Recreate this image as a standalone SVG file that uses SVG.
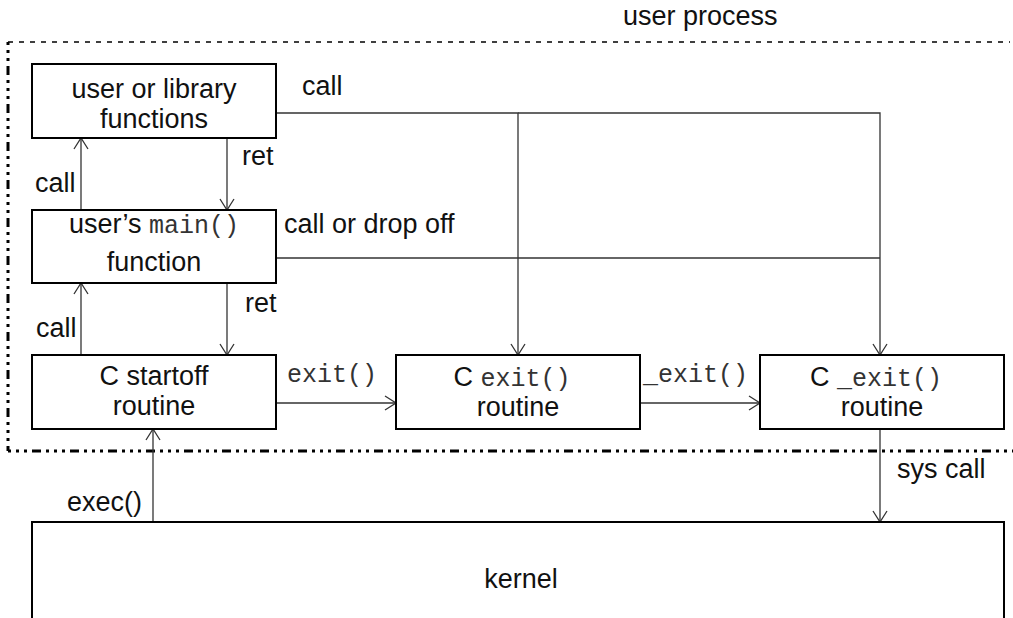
<svg xmlns="http://www.w3.org/2000/svg" width="1013" height="618" viewBox="0 0 1013 618">
  <style>
    .box { fill: #fff; stroke: #000; stroke-width: 2; }
    .lbl { font-family: "Liberation Sans", Arial, sans-serif; font-size: 27px; fill: #111; }
    .mid { text-anchor: middle; }
    .mono { font-family: "Liberation Mono", "Courier New", monospace; font-size: 25px; fill: #333; }
    .wire { fill: none; stroke: #333; stroke-width: 1.3; }
    .arrow { marker-end: url(#open); }
    .bound-top { fill: none; stroke: #000; stroke-width: 1.5; stroke-dasharray: 5 6; }
    .bound { fill: none; stroke: #000; stroke-width: 3; stroke-dasharray: 3 5 3 5 3 5 9 5; }
  </style>
  <defs>
    <marker id="open" viewBox="-12 -8 14 16" refX="0" refY="0" markerWidth="14" markerHeight="16" markerUnits="userSpaceOnUse" orient="auto">
      <path d="M-11,-7 L0,0 L-11,7" fill="none" stroke="#333" stroke-width="1.3"/>
    </marker>
  </defs>

  <!-- user process boundary -->
  <g id="user-process">
    <line class="bound-top" x1="8" y1="42" x2="1010" y2="42"/>
    <line class="bound" x1="8" y1="42" x2="8" y2="451"/>
    <line class="bound" x1="8" y1="451" x2="1013" y2="451"/>
    <text class="lbl" x="623" y="25">user process</text>
  </g>

  <!-- connectors -->
  <g id="connectors">
    <line class="wire arrow" x1="81" y1="210" x2="81" y2="138"/>
    <line class="wire arrow" x1="227" y1="138" x2="227" y2="210"/>
    <line class="wire arrow" x1="81" y1="355" x2="81" y2="283"/>
    <line class="wire arrow" x1="227" y1="283" x2="227" y2="355"/>
    <path class="wire arrow" d="M276,113 H518 V355"/>
    <path class="wire arrow" d="M518,113 H880 V355"/>
    <path class="wire" d="M276,258 H880"/>
    <line class="wire arrow" x1="276" y1="403" x2="396" y2="403"/>
    <line class="wire arrow" x1="640" y1="403" x2="760" y2="403"/>
    <line class="wire arrow" x1="880" y1="429" x2="880" y2="522"/>
    <line class="wire arrow" x1="153" y1="522" x2="153" y2="429"/>

    <text class="lbl" x="302" y="95">call</text>
    <text class="lbl" x="242" y="165">ret</text>
    <text class="lbl" x="35" y="192">call</text>
    <text class="lbl" x="284" y="233">call or drop off</text>
    <text class="lbl" x="245" y="312">ret</text>
    <text class="lbl" x="36" y="337">call</text>
    <text class="lbl mono" x="287" y="382">exit()</text>
    <text class="lbl mono" x="643" y="382">_exit()</text>
    <text class="lbl" x="897" y="478">sys call</text>
    <text class="lbl" x="67" y="511">exec()</text>
  </g>

  <g id="user-functions">
    <rect class="box" x="32" y="64" width="244" height="74"/>
    <text class="lbl mid" x="154" y="98">user or library</text>
    <text class="lbl mid" x="154" y="128">functions</text>
  </g>

  <g id="main-function">
    <rect class="box" x="32" y="210" width="244" height="73"/>
    <text class="lbl mid" x="154" y="233">user’s <tspan class="mono">main()</tspan></text>
    <text class="lbl mid" x="154" y="271">function</text>
  </g>

  <g id="startoff">
    <rect class="box" x="32" y="355" width="244" height="74"/>
    <text class="lbl mid" x="154" y="385">C startoff</text>
    <text class="lbl mid" x="154" y="415">routine</text>
  </g>

  <g id="exit-routine">
    <rect class="box" x="396" y="355" width="244" height="74"/>
    <text class="lbl mid" x="512" y="386">C <tspan class="mono">exit()</tspan></text>
    <text class="lbl mid" x="518" y="416">routine</text>
  </g>

  <g id="underscore-exit-routine">
    <rect class="box" x="760" y="355" width="244" height="74"/>
    <text class="lbl mid" x="876" y="386">C <tspan class="mono">_exit()</tspan></text>
    <text class="lbl mid" x="882" y="416">routine</text>
  </g>

  <g id="kernel">
    <rect class="box" x="32" y="522" width="972" height="130"/>
    <text class="lbl mid" x="521" y="588">kernel</text>
  </g>
</svg>
